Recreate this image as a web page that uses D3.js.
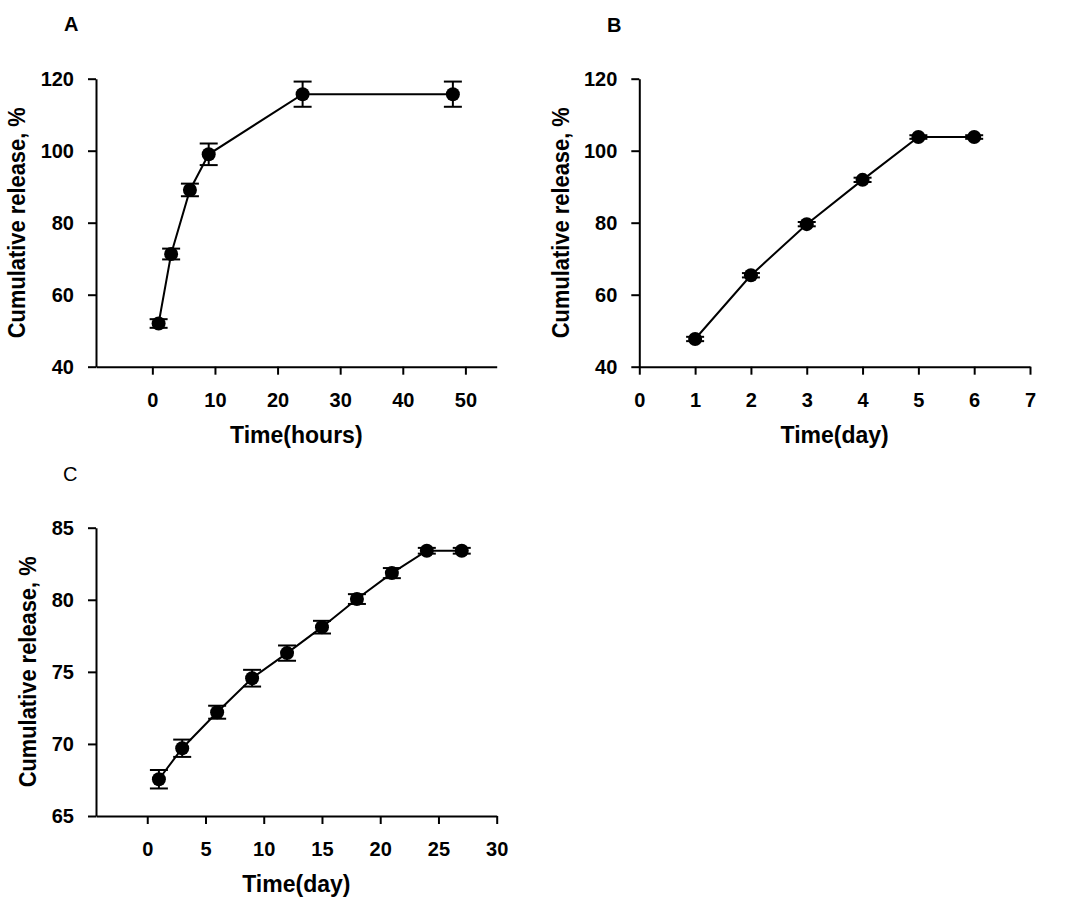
<!DOCTYPE html>
<html>
<head>
<meta charset="utf-8">
<script src="https://cdn.jsdelivr.net/npm/d3@7"></script>
<style>
  html, body { margin: 0; padding: 0; background: #fff; }
  svg { display: block; }
  text { font-family: "Liberation Sans", Arial, sans-serif; fill: #000; }
</style>
</head>
<body>
<svg id="chart" width="1065" height="900"></svg>
<script>
// ---- Data ----
const aTime = [1, 3, 6, 9, 24, 48];
const aRelease = [52, 71.3, 89.1, 99, 115.7, 115.7];
const aError = [1.2, 1.5, 1.75, 3, 3.5, 3.5];
const aXTicks = [0, 10, 20, 30, 40, 50];
const aYTicks = [40, 60, 80, 100, 120];

const bTime = [1, 2, 3, 4, 5, 6];
const bRelease = [47.7, 65.4, 79.6, 91.9, 103.8, 103.8];
const bError = [0.6, 0.6, 0.6, 0.6, 0.5, 0.5];
const bXTicks = [0, 1, 2, 3, 4, 5, 6, 7];
const bYTicks = [40, 60, 80, 100, 120];

const cTime = [1, 3, 6, 9, 12, 15, 18, 21, 24, 27];
const cRelease = [67.55, 69.7, 72.2, 74.56, 76.3, 78.1, 80.05, 81.85, 83.4, 83.4];
const cError = [0.64, 0.6, 0.45, 0.58, 0.53, 0.44, 0.34, 0.35, 0.2, 0.2];
const cXTicks = [0, 5, 10, 15, 20, 25, 30];
const cYTicks = [65, 70, 75, 80, 85];

const yTitle = "Cumulative release, %";

// ---- Panels (layout) ----
const panels = [
  { label: "A", labelBold: true, labelSize: 20, labelX: 64, labelY: 31,
    time: aTime, release: aRelease, error: aError, xTicks: aXTicks, yTicks: aYTicks,
    xDomain: [-9, 55], xRange: [96, 496.7], yDomain: [40, 120], yRange: [366.7, 78.7],
    xTitle: "Time(hours)", yTitleX: 25 },
  { label: "B", labelBold: true, labelSize: 20, labelX: 607, labelY: 32,
    time: bTime, release: bRelease, error: bError, xTicks: bXTicks, yTicks: bYTicks,
    xDomain: [0, 7], xRange: [639.3, 1030], yDomain: [40, 120], yRange: [366.7, 78.7],
    xTitle: "Time(day)", yTitleX: 569 },
  { label: "C", labelBold: false, labelSize: 20, labelX: 63, labelY: 481,
    time: cTime, release: cRelease, error: cError, xTicks: cXTicks, yTicks: cYTicks,
    xDomain: [-4.4, 30], xRange: [96, 496.7], yDomain: [65, 85], yRange: [816, 527.7],
    xTitle: "Time(day)", yTitleX: 36 }
];

const svg = d3.select("#chart");
const TICK_FS = 20;
const TITLE_FS = 23;

panels.forEach(p => {
  const x = d3.scaleLinear().domain(p.xDomain).range(p.xRange);
  const y = d3.scaleLinear().domain(p.yDomain).range(p.yRange);
  const g = svg.append("g");

  // Axes
  const xAxis = d3.axisBottom(x).tickValues(p.xTicks).tickSize(8).tickSizeOuter(0).tickPadding(18).tickFormat(d3.format("d"));
  const yAxis = d3.axisLeft(y).tickValues(p.yTicks).tickSize(8).tickSizeOuter(0).tickPadding(14).tickFormat(d3.format("d"));

  const gx = g.append("g").attr("transform", `translate(0,${p.yRange[0]})`).call(xAxis);
  const gy = g.append("g").attr("transform", `translate(${p.xRange[0]},0)`).call(yAxis);
  [gx, gy].forEach(ax => {
    ax.selectAll("path").attr("stroke", "#000").attr("stroke-width", 2);
    ax.selectAll("line").attr("stroke", "#000").attr("stroke-width", 2);
    ax.selectAll("text").attr("font-size", TICK_FS).attr("font-weight", "bold")
      .attr("font-family", "'Liberation Sans', Arial, sans-serif").attr("fill", "#000");
  });

  // Axis titles
  g.append("text")
    .attr("x", (p.xRange[0] + p.xRange[1]) / 2)
    .attr("y", p.yRange[0] + 76)
    .attr("text-anchor", "middle")
    .attr("font-size", TITLE_FS).attr("font-weight", "bold")
    .text(p.xTitle);

  const yMid = (p.yRange[0] + p.yRange[1]) / 2;
  g.append("text")
    .attr("transform", `translate(${p.yTitleX},${yMid}) rotate(-90)`)
    .attr("text-anchor", "middle")
    .attr("font-size", TITLE_FS).attr("font-weight", "bold")
    .attr("textLength", 231).attr("lengthAdjust", "spacingAndGlyphs")
    .text(yTitle);

  // Panel label
  g.append("text")
    .attr("x", p.labelX).attr("y", p.labelY)
    .attr("font-size", p.labelSize)
    .attr("font-weight", p.labelBold ? "bold" : "normal")
    .text(p.label);

  const data = p.time.map((t, i) => ({ t, v: p.release[i], e: p.error[i] }));

  // Line
  g.append("path")
    .datum(data)
    .attr("fill", "none").attr("stroke", "#000").attr("stroke-width", 2)
    .attr("d", d3.line().x(d => x(d.t)).y(d => y(d.v)));

  // Error bars
  const eb = g.append("g").selectAll("g").data(data).join("g");
  eb.append("line")
    .attr("x1", d => x(d.t)).attr("x2", d => x(d.t))
    .attr("y1", d => y(d.v - d.e)).attr("y2", d => y(d.v + d.e))
    .attr("stroke", "#000").attr("stroke-width", 2);
  eb.append("line")
    .attr("x1", d => x(d.t) - 9).attr("x2", d => x(d.t) + 9)
    .attr("y1", d => y(d.v + d.e)).attr("y2", d => y(d.v + d.e))
    .attr("stroke", "#000").attr("stroke-width", 2);
  eb.append("line")
    .attr("x1", d => x(d.t) - 9).attr("x2", d => x(d.t) + 9)
    .attr("y1", d => y(d.v - d.e)).attr("y2", d => y(d.v - d.e))
    .attr("stroke", "#000").attr("stroke-width", 2);

  // Markers
  g.append("g").selectAll("circle").data(data).join("circle")
    .attr("cx", d => x(d.t)).attr("cy", d => y(d.v))
    .attr("r", 7).attr("fill", "#000");
});
</script>
</body>
</html>
